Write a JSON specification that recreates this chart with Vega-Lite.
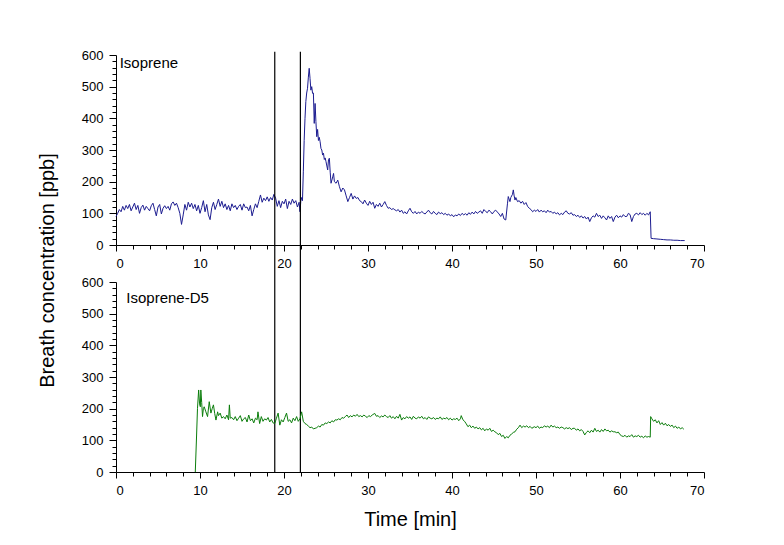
{
  "$schema": "https://vega.github.io/schema/vega-lite/v6.json",
  "padding": {"left": 37, "top": 49, "right": 10, "bottom": 5},
  "bounds": "flush",
  "spacing": 37,
  "config": {
    "view": {"stroke": null},
    "font": "Liberation Sans",
    "axis": {
      "grid": false,
      "domainColor": "#000000",
      "domainWidth": 1,
      "tickColor": "#000000",
      "tickWidth": 1,
      "tickCount": 200,
      "format": "d",
      "labelColor": "#000000",
      "labelFont": "Liberation Sans",
      "labelFontSize": 13,
      "labelOverlap": false,
      "titleFont": "Liberation Sans",
      "titleFontSize": 20,
      "titleFontWeight": "normal",
      "titleColor": "#000000"
    }
  },
  "datasets": {
    "iso": [
      {"t":0.0,"v":90},{"t":0.2,"v":100},{"t":0.4,"v":112},{"t":0.6,"v":105},{"t":0.8,"v":122},{"t":1.0,"v":110},{"t":1.2,"v":125},{"t":1.4,"v":115},{"t":1.6,"v":128},{"t":1.8,"v":108},
      {"t":2.0,"v":120},{"t":2.2,"v":132},{"t":2.4,"v":112},{"t":2.6,"v":125},{"t":2.8,"v":100},{"t":3.0,"v":118},{"t":3.2,"v":126},{"t":3.4,"v":110},{"t":3.6,"v":122},{"t":3.8,"v":115},
      {"t":4.0,"v":108},{"t":4.2,"v":124},{"t":4.4,"v":132},{"t":4.6,"v":112},{"t":4.8,"v":92},{"t":5.0,"v":120},{"t":5.2,"v":128},{"t":5.4,"v":98},{"t":5.6,"v":116},{"t":5.8,"v":124},
      {"t":6.0,"v":115},{"t":6.2,"v":122},{"t":6.4,"v":110},{"t":6.6,"v":130},{"t":6.8,"v":136},{"t":7.0,"v":125},{"t":7.2,"v":132},{"t":7.4,"v":118},{"t":7.6,"v":100},{"t":7.8,"v":65},
      {"t":8.0,"v":95},{"t":8.2,"v":128},{"t":8.4,"v":110},{"t":8.6,"v":135},{"t":8.8,"v":120},{"t":9.0,"v":132},{"t":9.2,"v":115},{"t":9.4,"v":128},{"t":9.6,"v":108},{"t":9.8,"v":125},
      {"t":10.0,"v":100},{"t":10.2,"v":118},{"t":10.4,"v":140},{"t":10.6,"v":105},{"t":10.8,"v":128},{"t":11.0,"v":95},{"t":11.2,"v":80},{"t":11.4,"v":118},{"t":11.6,"v":135},{"t":11.8,"v":112},
      {"t":12.0,"v":128},{"t":12.2,"v":145},{"t":12.4,"v":122},{"t":12.6,"v":138},{"t":12.8,"v":118},{"t":13.0,"v":130},{"t":13.2,"v":112},{"t":13.4,"v":125},{"t":13.6,"v":108},{"t":13.8,"v":130},
      {"t":14.0,"v":118},{"t":14.2,"v":125},{"t":14.4,"v":112},{"t":14.6,"v":122},{"t":14.8,"v":128},{"t":15.0,"v":110},{"t":15.2,"v":130},{"t":15.4,"v":118},{"t":15.6,"v":120},{"t":15.8,"v":108},
      {"t":16.0,"v":125},{"t":16.2,"v":92},{"t":16.4,"v":112},{"t":16.6,"v":130},{"t":16.8,"v":118},{"t":17.0,"v":138},{"t":17.2,"v":158},{"t":17.4,"v":135},{"t":17.6,"v":148},{"t":17.8,"v":140},
      {"t":18.0,"v":152},{"t":18.2,"v":138},{"t":18.4,"v":150},{"t":18.6,"v":142},{"t":18.8,"v":160},{"t":19.0,"v":148},{"t":19.2,"v":122},{"t":19.4,"v":140},{"t":19.6,"v":118},{"t":19.8,"v":138},
      {"t":20.0,"v":130},{"t":20.2,"v":145},{"t":20.4,"v":115},{"t":20.6,"v":138},{"t":20.8,"v":128},{"t":21.0,"v":145},{"t":21.2,"v":132},{"t":21.4,"v":140},{"t":21.6,"v":120},{"t":21.8,"v":135},
      {"t":21.9,"v":105},{"t":22.0,"v":138},{"t":22.1,"v":150},{"t":22.2,"v":140},{"t":22.3,"v":231},{"t":22.4,"v":330},{"t":22.5,"v":400},{"t":22.6,"v":453},{"t":22.7,"v":480},{"t":22.8,"v":495},
      {"t":22.9,"v":530},{"t":23.0,"v":558},{"t":23.1,"v":526},{"t":23.2,"v":489},{"t":23.3,"v":500},{"t":23.4,"v":479},{"t":23.5,"v":480},{"t":23.6,"v":384},{"t":23.7,"v":447},{"t":23.8,"v":390},
      {"t":23.9,"v":342},{"t":24.0,"v":365},{"t":24.1,"v":330},{"t":24.2,"v":340},{"t":24.3,"v":326},{"t":24.4,"v":305},{"t":24.5,"v":300},{"t":24.6,"v":284},{"t":24.7,"v":290},{"t":24.8,"v":270},
      {"t":24.9,"v":275},{"t":25.0,"v":263},{"t":25.2,"v":237},{"t":25.3,"v":270},{"t":25.4,"v":274},{"t":25.5,"v":230},{"t":25.6,"v":195},{"t":25.8,"v":215},{"t":25.9,"v":226},{"t":26.0,"v":200},
      {"t":26.2,"v":195},{"t":26.4,"v":205},{"t":26.6,"v":184},{"t":26.8,"v":168},{"t":27.0,"v":180},{"t":27.2,"v":174},{"t":27.4,"v":155},{"t":27.6,"v":137},{"t":27.8,"v":150},{"t":28.0,"v":163},
      {"t":28.2,"v":145},{"t":28.4,"v":155},{"t":28.6,"v":147},{"t":28.8,"v":150},{"t":29.0,"v":140},{"t":29.2,"v":137},{"t":29.4,"v":130},{"t":29.6,"v":142},{"t":29.8,"v":132},{"t":30.0,"v":125},
      {"t":30.2,"v":138},{"t":30.4,"v":128},{"t":30.6,"v":135},{"t":30.8,"v":116},{"t":31.0,"v":128},{"t":31.2,"v":122},{"t":31.4,"v":132},{"t":31.6,"v":120},{"t":31.8,"v":128},{"t":32.0,"v":137},
      {"t":32.2,"v":125},{"t":32.4,"v":116},{"t":32.6,"v":118},{"t":32.8,"v":112},{"t":33.0,"v":115},{"t":33.2,"v":111},{"t":33.4,"v":108},{"t":33.6,"v":112},{"t":33.8,"v":104},{"t":34.0,"v":110},
      {"t":34.2,"v":100},{"t":34.4,"v":105},{"t":34.6,"v":98},{"t":34.8,"v":108},{"t":35.0,"v":116},{"t":35.2,"v":105},{"t":35.4,"v":100},{"t":35.6,"v":106},{"t":35.8,"v":98},{"t":36.0,"v":104},
      {"t":36.2,"v":100},{"t":36.4,"v":106},{"t":36.6,"v":101},{"t":36.8,"v":98},{"t":37.0,"v":104},{"t":37.2,"v":110},{"t":37.4,"v":102},{"t":37.6,"v":98},{"t":37.8,"v":106},{"t":38.0,"v":100},
      {"t":38.2,"v":96},{"t":38.4,"v":104},{"t":38.6,"v":99},{"t":38.8,"v":102},{"t":39.0,"v":96},{"t":39.2,"v":100},{"t":39.4,"v":94},{"t":39.6,"v":98},{"t":39.8,"v":92},{"t":40.0,"v":96},
      {"t":40.2,"v":89},{"t":40.4,"v":95},{"t":40.6,"v":92},{"t":40.8,"v":98},{"t":41.0,"v":93},{"t":41.2,"v":100},{"t":41.4,"v":95},{"t":41.6,"v":99},{"t":41.8,"v":94},{"t":42.0,"v":102},
      {"t":42.2,"v":97},{"t":42.4,"v":104},{"t":42.6,"v":98},{"t":42.8,"v":106},{"t":43.0,"v":100},{"t":43.2,"v":104},{"t":43.4,"v":108},{"t":43.6,"v":100},{"t":43.8,"v":112},{"t":44.0,"v":106},
      {"t":44.2,"v":102},{"t":44.4,"v":110},{"t":44.6,"v":105},{"t":44.8,"v":98},{"t":45.0,"v":106},{"t":45.2,"v":110},{"t":45.4,"v":104},{"t":45.6,"v":98},{"t":45.8,"v":90},{"t":46.0,"v":100},
      {"t":46.2,"v":82},{"t":46.4,"v":79},{"t":46.6,"v":130},{"t":46.7,"v":153},{"t":46.8,"v":145},{"t":46.9,"v":137},{"t":47.0,"v":150},{"t":47.2,"v":160},{"t":47.3,"v":174},{"t":47.4,"v":155},
      {"t":47.5,"v":142},{"t":47.6,"v":150},{"t":47.8,"v":137},{"t":48.0,"v":140},{"t":48.2,"v":132},{"t":48.4,"v":138},{"t":48.6,"v":128},{"t":48.8,"v":134},{"t":49.0,"v":122},{"t":49.2,"v":116},
      {"t":49.4,"v":112},{"t":49.6,"v":105},{"t":49.8,"v":110},{"t":50.0,"v":106},{"t":50.2,"v":112},{"t":50.4,"v":104},{"t":50.6,"v":110},{"t":50.8,"v":105},{"t":51.0,"v":108},{"t":51.2,"v":102},
      {"t":51.4,"v":110},{"t":51.6,"v":104},{"t":51.8,"v":106},{"t":52.0,"v":100},{"t":52.2,"v":104},{"t":52.4,"v":98},{"t":52.6,"v":102},{"t":52.8,"v":95},{"t":53.0,"v":100},{"t":53.2,"v":96},
      {"t":53.4,"v":104},{"t":53.6,"v":108},{"t":53.8,"v":100},{"t":54.0,"v":98},{"t":54.2,"v":102},{"t":54.4,"v":94},{"t":54.6,"v":96},{"t":54.8,"v":90},{"t":55.0,"v":94},{"t":55.2,"v":87},
      {"t":55.4,"v":92},{"t":55.6,"v":85},{"t":55.8,"v":90},{"t":56.0,"v":82},{"t":56.2,"v":88},{"t":56.4,"v":74},{"t":56.6,"v":86},{"t":56.8,"v":92},{"t":57.0,"v":88},{"t":57.2,"v":100},
      {"t":57.4,"v":90},{"t":57.6,"v":94},{"t":57.8,"v":84},{"t":58.0,"v":92},{"t":58.2,"v":86},{"t":58.4,"v":79},{"t":58.6,"v":92},{"t":58.8,"v":84},{"t":59.0,"v":90},{"t":59.2,"v":74},
      {"t":59.4,"v":88},{"t":59.6,"v":94},{"t":59.8,"v":86},{"t":60.0,"v":92},{"t":60.2,"v":88},{"t":60.4,"v":96},{"t":60.6,"v":90},{"t":60.8,"v":90},{"t":61.0,"v":100},{"t":61.2,"v":96},
      {"t":61.4,"v":74},{"t":61.6,"v":90},{"t":61.8,"v":98},{"t":62.0,"v":100},{"t":62.2,"v":95},{"t":62.4,"v":102},{"t":62.6,"v":96},{"t":62.8,"v":100},{"t":63.0,"v":94},{"t":63.2,"v":100},
      {"t":63.4,"v":95},{"t":63.6,"v":105},{"t":63.7,"v":21},{"t":64.0,"v":20},{"t":64.4,"v":19},{"t":64.8,"v":18},{"t":65.2,"v":17},{"t":65.6,"v":16},{"t":66.0,"v":16},{"t":66.4,"v":15},
      {"t":66.8,"v":15},{"t":67.2,"v":14},{"t":67.7,"v":14}
    ],
    "d5": [
      {"t":9.44,"v":0},{"t":9.6,"v":120},{"t":9.7,"v":200},{"t":9.84,"v":259},{"t":9.95,"v":215},{"t":10.04,"v":206},{"t":10.1,"v":259},{"t":10.2,"v":220},{"t":10.3,"v":175},{"t":10.4,"v":200},
      {"t":10.5,"v":206},{"t":10.7,"v":190},{"t":10.9,"v":175},{"t":11.1,"v":222},{"t":11.3,"v":186},{"t":11.45,"v":200},{"t":11.6,"v":212},{"t":11.75,"v":185},{"t":11.9,"v":164},{"t":12.1,"v":190},
      {"t":12.2,"v":178},{"t":12.4,"v":186},{"t":12.6,"v":170},{"t":12.8,"v":175},{"t":13.0,"v":168},{"t":13.2,"v":180},{"t":13.4,"v":165},{"t":13.5,"v":212},{"t":13.6,"v":170},{"t":13.8,"v":172},
      {"t":14.0,"v":165},{"t":14.2,"v":175},{"t":14.4,"v":162},{"t":14.6,"v":170},{"t":14.8,"v":178},{"t":15.0,"v":160},{"t":15.2,"v":168},{"t":15.4,"v":172},{"t":15.6,"v":158},{"t":15.8,"v":180},
      {"t":16.0,"v":162},{"t":16.2,"v":168},{"t":16.4,"v":155},{"t":16.6,"v":170},{"t":16.8,"v":165},{"t":16.9,"v":190},{"t":17.1,"v":153},{"t":17.3,"v":175},{"t":17.5,"v":160},{"t":17.7,"v":168},
      {"t":17.9,"v":164},{"t":18.1,"v":172},{"t":18.3,"v":158},{"t":18.5,"v":166},{"t":18.7,"v":155},{"t":18.9,"v":153},{"t":19.1,"v":170},{"t":19.3,"v":186},{"t":19.5,"v":148},{"t":19.7,"v":165},
      {"t":19.9,"v":158},{"t":20.1,"v":172},{"t":20.3,"v":186},{"t":20.5,"v":160},{"t":20.7,"v":165},{"t":20.9,"v":155},{"t":21.1,"v":170},{"t":21.3,"v":162},{"t":21.5,"v":175},{"t":21.7,"v":160},
      {"t":21.9,"v":168},{"t":22.1,"v":190},{"t":22.3,"v":160},{"t":22.5,"v":153},{"t":22.7,"v":150},{"t":22.9,"v":145},{"t":23.1,"v":140},{"t":23.3,"v":142},{"t":23.5,"v":136},{"t":23.7,"v":138},
      {"t":23.9,"v":140},{"t":24.1,"v":145},{"t":24.3,"v":142},{"t":24.5,"v":150},{"t":24.7,"v":148},{"t":24.9,"v":155},{"t":25.1,"v":153},{"t":25.3,"v":158},{"t":25.5,"v":155},{"t":25.7,"v":162},
      {"t":25.9,"v":158},{"t":26.1,"v":165},{"t":26.3,"v":164},{"t":26.5,"v":168},{"t":26.7,"v":165},{"t":26.9,"v":172},{"t":27.1,"v":170},{"t":27.3,"v":175},{"t":27.5,"v":180},{"t":27.7,"v":172},
      {"t":27.9,"v":178},{"t":28.1,"v":174},{"t":28.3,"v":180},{"t":28.5,"v":176},{"t":28.7,"v":182},{"t":28.9,"v":175},{"t":29.1,"v":178},{"t":29.3,"v":174},{"t":29.5,"v":180},{"t":29.7,"v":176},
      {"t":29.9,"v":172},{"t":30.1,"v":178},{"t":30.3,"v":175},{"t":30.5,"v":180},{"t":30.8,"v":185},{"t":31.0,"v":176},{"t":31.2,"v":178},{"t":31.4,"v":172},{"t":31.6,"v":177},{"t":31.8,"v":174},
      {"t":32.0,"v":180},{"t":32.2,"v":175},{"t":32.4,"v":172},{"t":32.6,"v":178},{"t":32.8,"v":170},{"t":33.0,"v":175},{"t":33.2,"v":168},{"t":33.4,"v":176},{"t":33.6,"v":170},{"t":33.8,"v":182},
      {"t":34.0,"v":164},{"t":34.2,"v":172},{"t":34.4,"v":168},{"t":34.6,"v":175},{"t":34.8,"v":170},{"t":35.0,"v":174},{"t":35.2,"v":166},{"t":35.4,"v":176},{"t":35.6,"v":170},{"t":35.8,"v":168},
      {"t":36.0,"v":174},{"t":36.2,"v":170},{"t":36.4,"v":176},{"t":36.6,"v":168},{"t":36.8,"v":172},{"t":37.0,"v":166},{"t":37.2,"v":174},{"t":37.4,"v":170},{"t":37.6,"v":168},{"t":37.8,"v":172},
      {"t":38.0,"v":166},{"t":38.2,"v":170},{"t":38.4,"v":168},{"t":38.6,"v":174},{"t":38.8,"v":166},{"t":39.0,"v":170},{"t":39.2,"v":168},{"t":39.4,"v":172},{"t":39.6,"v":165},{"t":39.8,"v":170},
      {"t":40.0,"v":164},{"t":40.2,"v":168},{"t":40.4,"v":166},{"t":40.6,"v":170},{"t":40.8,"v":162},{"t":41.0,"v":168},{"t":41.1,"v":178},{"t":41.3,"v":165},{"t":41.5,"v":160},{"t":41.7,"v":152},
      {"t":41.9,"v":143},{"t":42.1,"v":148},{"t":42.3,"v":140},{"t":42.5,"v":145},{"t":42.7,"v":138},{"t":42.9,"v":142},{"t":43.1,"v":136},{"t":43.3,"v":140},{"t":43.5,"v":133},{"t":43.7,"v":138},
      {"t":43.9,"v":130},{"t":44.1,"v":136},{"t":44.3,"v":132},{"t":44.5,"v":138},{"t":44.7,"v":128},{"t":44.9,"v":132},{"t":45.1,"v":127},{"t":45.3,"v":124},{"t":45.5,"v":118},{"t":45.7,"v":122},
      {"t":45.9,"v":112},{"t":46.1,"v":116},{"t":46.3,"v":106},{"t":46.5,"v":112},{"t":46.7,"v":108},{"t":46.9,"v":116},{"t":47.1,"v":120},{"t":47.3,"v":125},{"t":47.5,"v":127},{"t":47.7,"v":135},
      {"t":47.9,"v":140},{"t":48.1,"v":148},{"t":48.3,"v":140},{"t":48.5,"v":145},{"t":48.7,"v":142},{"t":48.9,"v":146},{"t":49.1,"v":140},{"t":49.3,"v":144},{"t":49.5,"v":138},{"t":49.8,"v":143},
      {"t":50.0,"v":140},{"t":50.2,"v":145},{"t":50.4,"v":138},{"t":50.6,"v":142},{"t":50.8,"v":140},{"t":51.0,"v":146},{"t":51.2,"v":142},{"t":51.4,"v":145},{"t":51.6,"v":140},{"t":51.8,"v":148},
      {"t":52.0,"v":142},{"t":52.2,"v":145},{"t":52.4,"v":140},{"t":52.6,"v":142},{"t":52.8,"v":138},{"t":53.0,"v":142},{"t":53.2,"v":140},{"t":53.4,"v":136},{"t":53.6,"v":140},{"t":53.8,"v":137},
      {"t":54.0,"v":140},{"t":54.2,"v":134},{"t":54.4,"v":138},{"t":54.6,"v":138},{"t":54.8,"v":132},{"t":55.0,"v":136},{"t":55.2,"v":130},{"t":55.4,"v":134},{"t":55.6,"v":128},{"t":55.8,"v":117},
      {"t":56.0,"v":125},{"t":56.2,"v":130},{"t":56.4,"v":124},{"t":56.6,"v":132},{"t":56.8,"v":126},{"t":57.0,"v":138},{"t":57.2,"v":128},{"t":57.4,"v":132},{"t":57.6,"v":126},{"t":57.8,"v":134},
      {"t":58.0,"v":128},{"t":58.2,"v":136},{"t":58.4,"v":130},{"t":58.6,"v":132},{"t":58.8,"v":126},{"t":59.0,"v":130},{"t":59.2,"v":127},{"t":59.4,"v":127},{"t":59.6,"v":124},{"t":59.8,"v":126},
      {"t":60.0,"v":118},{"t":60.2,"v":114},{"t":60.4,"v":112},{"t":60.6,"v":116},{"t":60.8,"v":110},{"t":61.0,"v":114},{"t":61.2,"v":112},{"t":61.4,"v":118},{"t":61.6,"v":110},{"t":61.8,"v":114},
      {"t":62.0,"v":112},{"t":62.2,"v":116},{"t":62.4,"v":110},{"t":62.6,"v":113},{"t":62.8,"v":108},{"t":63.0,"v":114},{"t":63.2,"v":110},{"t":63.4,"v":112},{"t":63.6,"v":110},{"t":63.65,"v":175},
      {"t":63.8,"v":168},{"t":64.0,"v":160},{"t":64.2,"v":165},{"t":64.4,"v":155},{"t":64.6,"v":162},{"t":64.8,"v":150},{"t":65.0,"v":156},{"t":65.2,"v":148},{"t":65.4,"v":154},{"t":65.6,"v":146},
      {"t":65.8,"v":150},{"t":66.0,"v":144},{"t":66.2,"v":148},{"t":66.4,"v":140},{"t":66.6,"v":145},{"t":66.8,"v":138},{"t":67.0,"v":142},{"t":67.2,"v":136},{"t":67.4,"v":140},{"t":67.6,"v":135}
    ],
    "events": [{"t": 18.9}, {"t": 21.95}],
    "lab1": [{"name": "Isoprene"}],
    "lab2": [{"name": "Isoprene-D5"}]
  },
  "vconcat": [
    {
      "width": 588,
      "height": 190,
      "layer": [
        {
          "data": {"name": "iso"},
          "mark": {"type": "line", "color": "#1c1c90", "strokeWidth": 1},
          "encoding": {
            "x": {"field": "t", "type": "quantitative",
              "scale": {"domain": [0, 70], "nice": false, "zero": false},
              "axis": {"title": null,
                "tickCount": 200,
                "format": "d",
                "values": [0,2,4,6,8,10,12,14,16,18,20,22,24,26,28,30,32,34,36,38,40,42,44,46,48,50,52,54,56,58,60,62,64,66,68,70],
                "labelExpr": "datum.value % 10 === 0 ? datum.label : ''",
                "tickSize": {"condition": {"test": "datum.value % 10 === 0", "value": 6}, "value": 4},
                "labelPadding": 6}},
            "y": {"field": "v", "type": "quantitative",
              "scale": {"domain": [0, 600], "nice": false},
              "axis": {"title": "Breath concentration [ppb]",
                "tickCount": 200,
                "format": "d",
                "titleY": 215,
                "titlePadding": 24,
                "values": [0,20,40,60,80,100,120,140,160,180,200,220,240,260,280,300,320,340,360,380,400,420,440,460,480,500,520,540,560,580,600],
                "labelExpr": "datum.value % 100 === 0 ? datum.label : ''",
                "tickSize": {"condition": {"test": "datum.value % 100 === 0", "value": 7}, "value": 4},
                "labelPadding": 6}}
          }
        },
        {
          "data": {"name": "events"},
          "mark": {"type": "rule", "color": "#000000", "strokeWidth": 1.2},
          "encoding": {
            "x": {"field": "t", "type": "quantitative"},
            "y": {"datum": 610},
            "y2": {"datum": -717}
          }
        },
        {
          "data": {"name": "lab1"},
          "mark": {"type": "text", "align": "left", "baseline": "alphabetic", "fontSize": 15, "font": "Liberation Sans", "color": "#000000"},
          "encoding": {
            "x": {"datum": 0.44},
            "y": {"datum": 558},
            "text": {"field": "name"}
          }
        }
      ]
    },
    {
      "width": 588,
      "height": 190,
      "layer": [
        {
          "data": {"name": "d5"},
          "mark": {"type": "line", "color": "#0b7d0b", "strokeWidth": 1},
          "encoding": {
            "x": {"field": "t", "type": "quantitative",
              "scale": {"domain": [0, 70], "nice": false, "zero": false},
              "axis": {"title": "Time [min]",
                "tickCount": 200,
                "format": "d",
                "titlePadding": 12,
                "values": [0,2,4,6,8,10,12,14,16,18,20,22,24,26,28,30,32,34,36,38,40,42,44,46,48,50,52,54,56,58,60,62,64,66,68,70],
                "labelExpr": "datum.value % 10 === 0 ? datum.label : ''",
                "tickSize": {"condition": {"test": "datum.value % 10 === 0", "value": 6}, "value": 4},
                "labelPadding": 6}},
            "y": {"field": "v", "type": "quantitative",
              "scale": {"domain": [0, 600], "nice": false},
              "axis": {"title": null,
                "tickCount": 200,
                "format": "d",
                "values": [0,20,40,60,80,100,120,140,160,180,200,220,240,260,280,300,320,340,360,380,400,420,440,460,480,500,520,540,560,580,600],
                "labelExpr": "datum.value % 100 === 0 ? datum.label : ''",
                "tickSize": {"condition": {"test": "datum.value % 100 === 0", "value": 7}, "value": 4},
                "labelPadding": 6}}
          }
        },
        {
          "data": {"name": "lab2"},
          "mark": {"type": "text", "align": "left", "baseline": "alphabetic", "fontSize": 15, "font": "Liberation Sans", "color": "#000000"},
          "encoding": {
            "x": {"datum": 1.23},
            "y": {"datum": 535},
            "text": {"field": "name"}
          }
        }
      ]
    }
  ]
}
